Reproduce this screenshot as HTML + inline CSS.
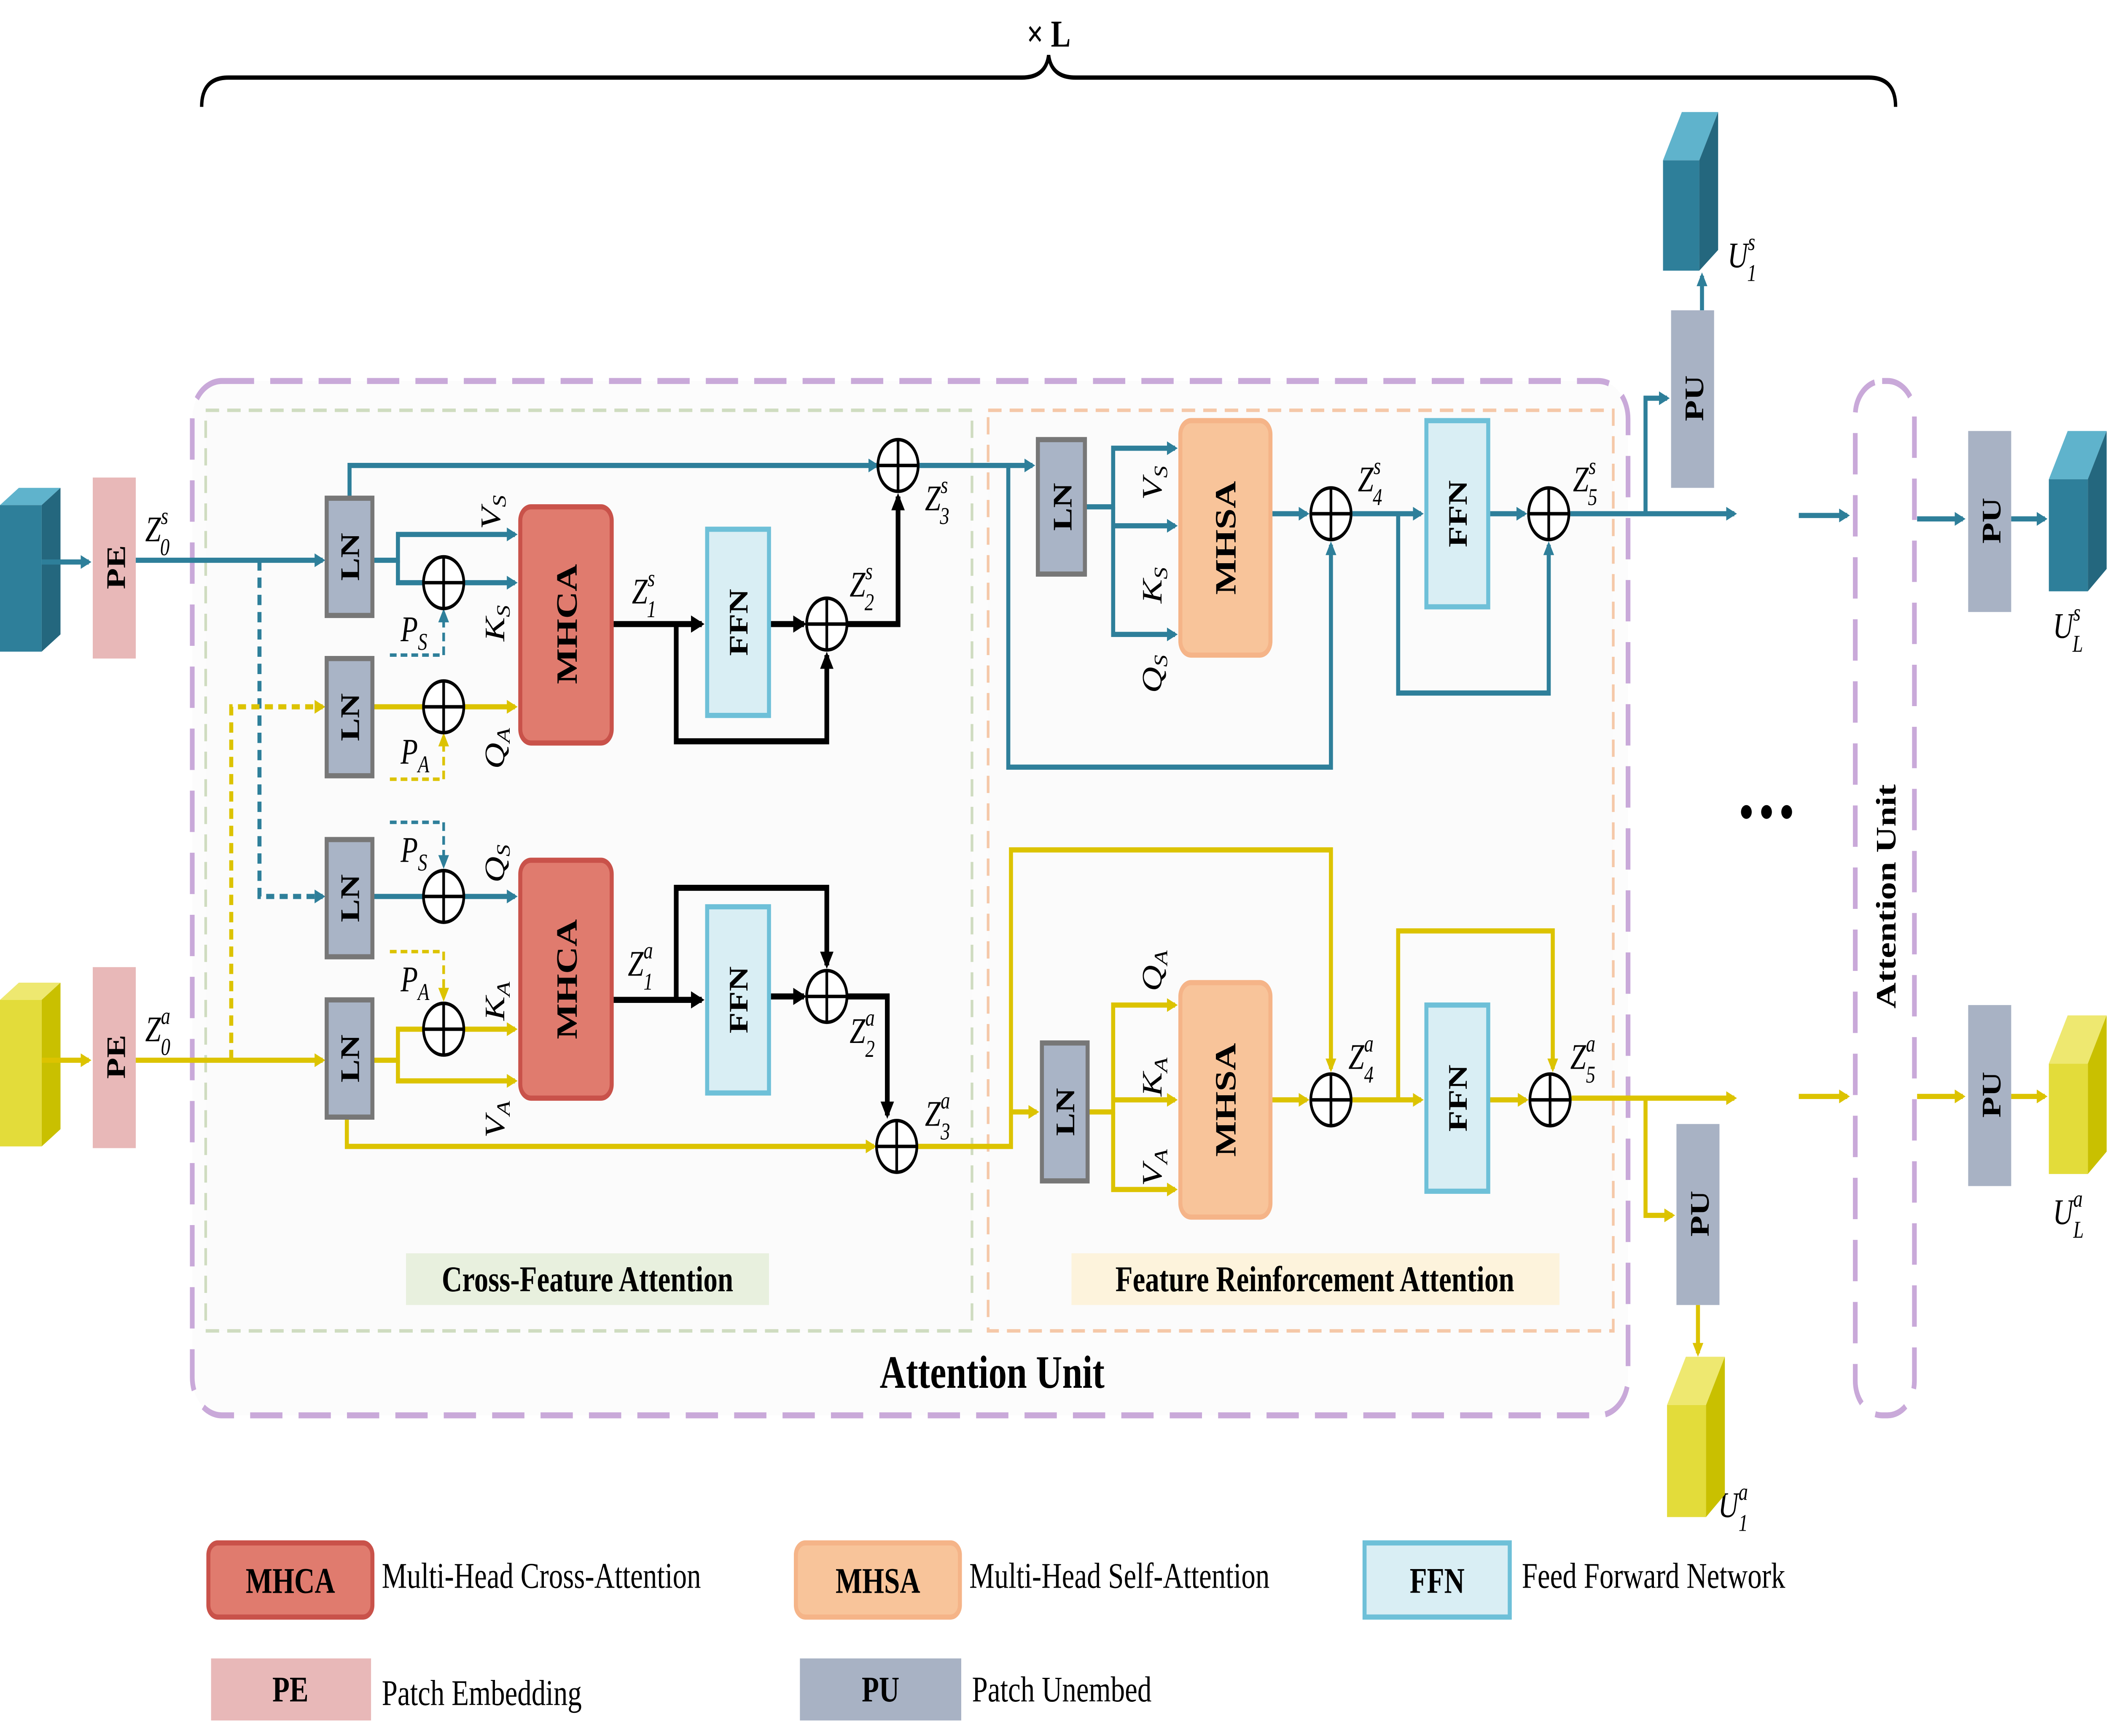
<!DOCTYPE html>
<html><head><meta charset="utf-8"><style>
html,body{margin:0;padding:0;background:#fff;overflow:hidden;width:100vw;height:100vh;}
svg{display:block;position:fixed;left:0;top:0;width:100vw;height:100vh;}
text{font-family:"Liberation Serif",serif;}
.b{font-weight:bold;}
.m{font-style:italic;font-size:21px;}
</style></head><body>
<svg viewBox="0 0 1568 1007" preserveAspectRatio="none" xmlns="http://www.w3.org/2000/svg">
<defs>
<marker id="at" markerWidth="8" markerHeight="8" refX="6" refY="4" orient="auto" markerUnits="userSpaceOnUse"><path d="M0,0 L8,4 L0,8 z" fill="#2e7f9a"/></marker>
<marker id="ay" markerWidth="8" markerHeight="8" refX="6" refY="4" orient="auto" markerUnits="userSpaceOnUse"><path d="M0,0 L8,4 L0,8 z" fill="#dcc300"/></marker>
<marker id="ak" markerWidth="10" markerHeight="10" refX="8" refY="5" orient="auto" markerUnits="userSpaceOnUse"><path d="M0,0 L10,5 L0,10 z" fill="#000"/></marker>
</defs>
<rect width="1568" height="1007" fill="#fff"/>
<text x="780" y="27" font-size="22" class="b" text-anchor="middle">× L</text>
<path d="M150,62 Q150,45 170,45 L760,45 Q778,45 780,32 Q782,45 800,45 L1390,45 Q1410,45 1410,62" fill="none" stroke="#000" stroke-width="2.5"/>
<rect x="143" y="221" width="1068" height="600" rx="22" fill="#fcfcfc" stroke="#c9a9d9" stroke-width="3.5" stroke-dasharray="24,12"/>
<rect x="153" y="238" width="570" height="534" fill="#fbfbfb" stroke="#cfdcc0" stroke-width="2" stroke-dasharray="10,6"/>
<rect x="735" y="238" width="465" height="534" fill="#fbfbfb" stroke="#f5c8a8" stroke-width="2" stroke-dasharray="10,6"/>
<rect x="1380" y="221" width="44" height="600" rx="20" fill="#fff" stroke="#c9a9d9" stroke-width="3.5" stroke-dasharray="24,12"/>
<text transform="translate(1410,520) rotate(-90)" font-size="21" class="b" text-anchor="middle">Attention Unit</text>
<g><polygon points="0,293 14,283 45,283 31,293" fill="#5fb3cc"/><polygon points="31,293 45,283 45,368 31,378" fill="#24677e"/><rect x="0" y="293" width="31" height="85" fill="#2e7f9a"/></g>
<g><polygon points="0,580 14,570 45,570 31,580" fill="#eee870"/><polygon points="31,580 45,570 45,655 31,665" fill="#c9c000"/><rect x="0" y="580" width="31" height="85" fill="#e3dc3a"/></g>
<line x1="31" y1="326" x2="66" y2="326" stroke="#2e7f9a" stroke-width="3" marker-end="url(#at)"/>
<line x1="31" y1="615" x2="66" y2="615" stroke="#dcc300" stroke-width="3" marker-end="url(#ay)"/>
<rect x="69" y="277" width="32" height="105" fill="#e8b8b8"/>
<text transform="translate(93,329) rotate(-90)" font-size="20" class="b" text-anchor="middle">PE</text>
<rect x="69" y="561" width="32" height="105" fill="#e8b8b8"/>
<text transform="translate(93,613) rotate(-90)" font-size="20" class="b" text-anchor="middle">PE</text>
<text x="108" y="314" class="m">Z<tspan font-size="14" dy="-10">s</tspan><tspan font-size="14" dx="-6" dy="18">0</tspan></text>
<text x="108" y="604" class="m">Z<tspan font-size="14" dy="-10">a</tspan><tspan font-size="14" dx="-7" dy="18">0</tspan></text>
<g fill="none" stroke-width="3">
<line x1="101" y1="325" x2="240" y2="325" stroke="#2e7f9a" marker-end="url(#at)"/>
<path d="M193,325 V520 H240" stroke="#2e7f9a" stroke-dasharray="6,4" marker-end="url(#at)"/>
<line x1="101" y1="615" x2="240" y2="615" stroke="#dcc300" marker-end="url(#ay)"/>
<path d="M172,615 V410 H240" stroke="#dcc300" stroke-dasharray="6,4" marker-end="url(#ay)"/>
<path d="M277,325 H296 V310 H383" stroke="#2e7f9a" marker-end="url(#at)"/>
<path d="M296,325 V338 H383" stroke="#2e7f9a" marker-end="url(#at)"/>
<path d="M290,380 H330 V355" stroke="#2e7f9a" stroke-width="2" stroke-dasharray="5,3" marker-end="url(#at)"/>
<path d="M260,289 V270 H652" stroke="#2e7f9a" marker-end="url(#at)"/>
<line x1="277" y1="410" x2="383" y2="410" stroke="#dcc300" marker-end="url(#ay)"/>
<path d="M290,452 H330 V427" stroke="#dcc300" stroke-width="2" stroke-dasharray="5,3" marker-end="url(#ay)"/>
<line x1="277" y1="520" x2="383" y2="520" stroke="#2e7f9a" marker-end="url(#at)"/>
<path d="M290,477 H330 V502" stroke="#2e7f9a" stroke-width="2" stroke-dasharray="5,3" marker-end="url(#at)"/>
<path d="M277,615 H296 V597 H383" stroke="#dcc300" marker-end="url(#ay)"/>
<path d="M296,615 V627 H383" stroke="#dcc300" marker-end="url(#ay)"/>
<path d="M290,552 H330 V579" stroke="#dcc300" stroke-width="2" stroke-dasharray="5,3" marker-end="url(#ay)"/>
<path d="M258,648 V665 H650" stroke="#dcc300" marker-end="url(#ay)"/>
<line x1="455" y1="362" x2="522" y2="362" stroke="#000" stroke-width="3.5" marker-end="url(#ak)"/>
<path d="M503,362 V430 H615 V380" stroke="#000" stroke-width="3.5" marker-end="url(#ak)"/>
<line x1="572" y1="362" x2="598" y2="362" stroke="#000" stroke-width="3.5" marker-end="url(#ak)"/>
<path d="M630,362 H668 V288" stroke="#000" stroke-width="3.5" marker-end="url(#ak)"/>
<line x1="455" y1="580" x2="522" y2="580" stroke="#000" stroke-width="3.5" marker-end="url(#ak)"/>
<path d="M503,580 V515 H615 V560" stroke="#000" stroke-width="3.5" marker-end="url(#ak)"/>
<line x1="572" y1="578" x2="598" y2="578" stroke="#000" stroke-width="3.5" marker-end="url(#ak)"/>
<path d="M630,578 H660 V647" stroke="#000" stroke-width="3.5" marker-end="url(#ak)"/>
<line x1="684" y1="270" x2="768" y2="270" stroke="#2e7f9a" marker-end="url(#at)"/>
<path d="M750,270 V445 H990 V316" stroke="#2e7f9a" marker-end="url(#at)"/>
<path d="M807,294 H828 V260 H874" stroke="#2e7f9a" marker-end="url(#at)"/>
<line x1="828" y1="305" x2="874" y2="305" stroke="#2e7f9a" marker-end="url(#at)"/>
<path d="M828,294 V368 H874" stroke="#2e7f9a" marker-end="url(#at)"/>
<line x1="945" y1="298" x2="972" y2="298" stroke="#2e7f9a" marker-end="url(#at)"/>
<line x1="1006" y1="298" x2="1057" y2="298" stroke="#2e7f9a" marker-end="url(#at)"/>
<path d="M1040,298 V402 H1152 V316" stroke="#2e7f9a" marker-end="url(#at)"/>
<line x1="1107" y1="298" x2="1134" y2="298" stroke="#2e7f9a" marker-end="url(#at)"/>
<line x1="1168" y1="298" x2="1290" y2="298" stroke="#2e7f9a" marker-end="url(#at)"/>
<path d="M1224,298 V231 H1240" stroke="#2e7f9a" marker-end="url(#at)"/>
<line x1="1266" y1="180" x2="1266" y2="160" stroke="#2e7f9a" marker-end="url(#at)"/>
<line x1="1338" y1="299" x2="1374" y2="299" stroke="#2e7f9a" marker-end="url(#at)"/>
<line x1="1426" y1="301" x2="1460" y2="301" stroke="#2e7f9a" marker-end="url(#at)"/>
<line x1="1496" y1="301" x2="1521" y2="301" stroke="#2e7f9a" marker-end="url(#at)"/>
<path d="M683,665 H752 V493 H990 V620" stroke="#dcc300" marker-end="url(#ay)"/>
<line x1="752" y1="645" x2="771" y2="645" stroke="#dcc300" marker-end="url(#ay)"/>
<path d="M809,645 H828 V583 H874" stroke="#dcc300" marker-end="url(#ay)"/>
<line x1="828" y1="638" x2="874" y2="638" stroke="#dcc300" marker-end="url(#ay)"/>
<path d="M828,645 V690 H874" stroke="#dcc300" marker-end="url(#ay)"/>
<line x1="945" y1="638" x2="972" y2="638" stroke="#dcc300" marker-end="url(#ay)"/>
<line x1="1006" y1="638" x2="1057" y2="638" stroke="#dcc300" marker-end="url(#ay)"/>
<path d="M1040,638 V540 H1155 V620" stroke="#dcc300" marker-end="url(#ay)"/>
<line x1="1107" y1="638" x2="1135" y2="638" stroke="#dcc300" marker-end="url(#ay)"/>
<line x1="1169" y1="637" x2="1290" y2="637" stroke="#dcc300" marker-end="url(#ay)"/>
<path d="M1224,637 V705 H1244" stroke="#dcc300" marker-end="url(#ay)"/>
<line x1="1263" y1="757" x2="1263" y2="785" stroke="#dcc300" marker-end="url(#ay)"/>
<line x1="1338" y1="636" x2="1374" y2="636" stroke="#dcc300" marker-end="url(#ay)"/>
<line x1="1426" y1="636" x2="1460" y2="636" stroke="#dcc300" marker-end="url(#ay)"/>
<line x1="1496" y1="636" x2="1521" y2="636" stroke="#dcc300" marker-end="url(#ay)"/>
</g>
<g fill="#a9b4c6" stroke="#777" stroke-width="3">
<rect x="243" y="289" width="34" height="68"/><rect x="243" y="382" width="34" height="68"/>
<rect x="243" y="487" width="34" height="68"/><rect x="243" y="580" width="34" height="68"/>
<rect x="772" y="255" width="35" height="78"/><rect x="775" y="605" width="34" height="80"/>
</g>
<g font-size="20" class="b" text-anchor="middle">
<text transform="translate(267,323) rotate(-90)">LN</text><text transform="translate(267,416) rotate(-90)">LN</text>
<text transform="translate(267,521) rotate(-90)">LN</text><text transform="translate(267,614) rotate(-90)">LN</text>
<text transform="translate(797,294) rotate(-90)">LN</text><text transform="translate(799,645) rotate(-90)">LN</text>
</g>
<rect x="387" y="294" width="68" height="137" rx="8" fill="#e07b6e" stroke="#c9524a" stroke-width="3"/>
<rect x="387" y="499" width="68" height="138" rx="8" fill="#e07b6e" stroke="#c9524a" stroke-width="3"/>
<text transform="translate(429,362) rotate(-90)" font-size="22" class="b" text-anchor="middle">MHCA</text>
<text transform="translate(429,568) rotate(-90)" font-size="22" class="b" text-anchor="middle">MHCA</text>
<rect x="878" y="244" width="67" height="136" rx="8" fill="#f8c49a" stroke="#f5b488" stroke-width="3"/>
<rect x="878" y="570" width="67" height="136" rx="8" fill="#f8c49a" stroke="#f5b488" stroke-width="3"/>
<text transform="translate(919,312) rotate(-90)" font-size="22" class="b" text-anchor="middle">MHSA</text>
<text transform="translate(919,638) rotate(-90)" font-size="22" class="b" text-anchor="middle">MHSA</text>
<g fill="#d9eef4" stroke="#6ec0d8" stroke-width="3">
<rect x="526" y="307" width="46" height="108"/><rect x="526" y="526" width="46" height="108"/>
<rect x="1061" y="244" width="46" height="108"/><rect x="1061" y="583" width="46" height="108"/>
</g>
<g font-size="20" class="b" text-anchor="middle">
<text transform="translate(556,361) rotate(-90)">FFN</text><text transform="translate(556,580) rotate(-90)">FFN</text>
<text transform="translate(1091,298) rotate(-90)">FFN</text><text transform="translate(1091,637) rotate(-90)">FFN</text>
</g>
<g fill="#fff" stroke="#000" stroke-width="2">
<circle cx="330" cy="338" r="15"/><circle cx="330" cy="410" r="15"/><circle cx="330" cy="520" r="15"/><circle cx="330" cy="597" r="15"/>
<circle cx="615" cy="362" r="15"/><circle cx="615" cy="578" r="15"/><circle cx="668" cy="270" r="15"/><circle cx="667" cy="665" r="15"/>
<circle cx="990" cy="298" r="15"/><circle cx="1152" cy="298" r="15"/><circle cx="990" cy="638" r="15"/><circle cx="1153" cy="638" r="15"/>
</g>
<g stroke="#000" stroke-width="2">
<path d="M315,338h30M330,323v30M315,410h30M330,395v30M315,520h30M330,505v30M315,597h30M330,582v30"/>
<path d="M600,362h30M615,347v30M600,578h30M615,563v30M653,270h30M668,255v30M652,665h30M667,650v30"/>
<path d="M975,298h30M990,283v30M1137,298h30M1152,283v30M975,638h30M990,623v30M1138,638h30M1153,623v30"/>
</g>
<g class="m">
<text transform="translate(372,307) rotate(-90)">V<tspan font-size="14" dy="4">S</tspan></text>
<text transform="translate(375,372) rotate(-90)">K<tspan font-size="14" dy="4">S</tspan></text>
<text x="298" y="372">P<tspan font-size="14" dy="5">S</tspan></text>
<text transform="translate(375,446) rotate(-90)">Q<tspan font-size="14" dy="4">A</tspan></text>
<text x="298" y="443">P<tspan font-size="14" dy="5">A</tspan></text>
<text x="298" y="500">P<tspan font-size="14" dy="5">S</tspan></text>
<text transform="translate(375,512) rotate(-90)">Q<tspan font-size="14" dy="4">S</tspan></text>
<text x="298" y="575">P<tspan font-size="14" dy="5">A</tspan></text>
<text transform="translate(375,592) rotate(-90)">K<tspan font-size="14" dy="4">A</tspan></text>
<text transform="translate(375,660) rotate(-90)">V<tspan font-size="14" dy="4">A</tspan></text>
<text x="470" y="350">Z<tspan font-size="14" dy="-10">s</tspan><tspan font-size="14" dx="-6" dy="18">1</tspan></text>
<text x="632" y="346">Z<tspan font-size="14" dy="-10">s</tspan><tspan font-size="14" dx="-6" dy="18">2</tspan></text>
<text x="688" y="296">Z<tspan font-size="14" dy="-10">s</tspan><tspan font-size="14" dx="-6" dy="18">3</tspan></text>
<text x="467" y="566">Z<tspan font-size="14" dy="-10">a</tspan><tspan font-size="14" dx="-7" dy="18">1</tspan></text>
<text x="632" y="605">Z<tspan font-size="14" dy="-10">a</tspan><tspan font-size="14" dx="-7" dy="18">2</tspan></text>
<text x="688" y="653">Z<tspan font-size="14" dy="-10">a</tspan><tspan font-size="14" dx="-7" dy="18">3</tspan></text>
<text transform="translate(864,290) rotate(-90)">V<tspan font-size="14" dy="4">S</tspan></text>
<text transform="translate(864,350) rotate(-90)">K<tspan font-size="14" dy="4">S</tspan></text>
<text transform="translate(864,402) rotate(-90)">Q<tspan font-size="14" dy="4">S</tspan></text>
<text transform="translate(864,575) rotate(-90)">Q<tspan font-size="14" dy="4">A</tspan></text>
<text transform="translate(864,636) rotate(-90)">K<tspan font-size="14" dy="4">A</tspan></text>
<text transform="translate(864,688) rotate(-90)">V<tspan font-size="14" dy="4">A</tspan></text>
<text x="1010" y="285">Z<tspan font-size="14" dy="-10">s</tspan><tspan font-size="14" dx="-6" dy="18">4</tspan></text>
<text x="1170" y="285">Z<tspan font-size="14" dy="-10">s</tspan><tspan font-size="14" dx="-6" dy="18">5</tspan></text>
<text x="1003" y="620">Z<tspan font-size="14" dy="-10">a</tspan><tspan font-size="14" dx="-7" dy="18">4</tspan></text>
<text x="1168" y="620">Z<tspan font-size="14" dy="-10">a</tspan><tspan font-size="14" dx="-7" dy="18">5</tspan></text>
<text x="1285" y="155">U<tspan font-size="14" dy="-10">s</tspan><tspan font-size="14" dx="-6" dy="18">1</tspan></text>
<text x="1527" y="370">U<tspan font-size="14" dy="-10">s</tspan><tspan font-size="14" dx="-6" dy="18">L</tspan></text>
<text x="1278" y="880">U<tspan font-size="14" dy="-10">a</tspan><tspan font-size="14" dx="-7" dy="18">1</tspan></text>
<text x="1527" y="710">U<tspan font-size="14" dy="-10">a</tspan><tspan font-size="14" dx="-7" dy="18">L</tspan></text>
</g>
<g fill="#a8b2c4">
<rect x="1243" y="180" width="32" height="103"/><rect x="1247" y="652" width="32" height="105"/>
<rect x="1464" y="250" width="32" height="105"/><rect x="1464" y="583" width="32" height="105"/>
</g>
<g font-size="20" class="b" text-anchor="middle">
<text transform="translate(1267,231) rotate(-90)">PU</text><text transform="translate(1271,704) rotate(-90)">PU</text>
<text transform="translate(1488,302) rotate(-90)">PU</text><text transform="translate(1488,635) rotate(-90)">PU</text>
</g>
<g><polygon points="1237,93 1251,65 1278,65 1264,93" fill="#5fb3cc"/><polygon points="1264,93 1278,65 1278,145 1264,157" fill="#24677e"/><rect x="1237" y="93" width="27" height="64" fill="#2e7f9a"/></g>
<g><polygon points="1524,278 1538,250 1567,250 1553,278" fill="#5fb3cc"/><polygon points="1553,278 1567,250 1567,330 1553,343" fill="#24677e"/><rect x="1524" y="278" width="29" height="65" fill="#2e7f9a"/></g>
<g><polygon points="1240,815 1254,787 1283,787 1269,815" fill="#eee870"/><polygon points="1269,815 1283,787 1283,867 1269,880" fill="#c9c000"/><rect x="1240" y="815" width="29" height="65" fill="#e3dc3a"/></g>
<g><polygon points="1524,617 1538,589 1567,589 1553,617" fill="#eee870"/><polygon points="1553,617 1567,589 1567,668 1553,681" fill="#c9c000"/><rect x="1524" y="617" width="29" height="64" fill="#e3dc3a"/></g>
<circle cx="1299" cy="471" r="4"/><circle cx="1314" cy="471" r="4"/><circle cx="1329" cy="471" r="4"/>
<rect x="302" y="727" width="270" height="30" fill="#e8f0de"/>
<text x="437" y="749" font-size="21" class="b" text-anchor="middle">Cross-Feature Attention</text>
<rect x="797" y="727" width="363" height="30" fill="#fdf3dc"/>
<text x="978" y="749" font-size="21" class="b" text-anchor="middle">Feature Reinforcement Attention</text>
<text x="738" y="805" font-size="27" class="b" text-anchor="middle">Attention Unit</text>
<rect x="155" y="895" width="122" height="43" rx="7" fill="#e07b6e" stroke="#c9524a" stroke-width="3"/>
<text x="216" y="924" font-size="21" class="b" text-anchor="middle">MHCA</text>
<text x="284" y="921" font-size="21">Multi-Head Cross-Attention</text>
<rect x="592" y="895" width="122" height="43" rx="7" fill="#f8c49a" stroke="#f5b488" stroke-width="3"/>
<text x="653" y="924" font-size="21" class="b" text-anchor="middle">MHSA</text>
<text x="721" y="921" font-size="21">Multi-Head Self-Attention</text>
<rect x="1015" y="895" width="108" height="43" fill="#d9eef4" stroke="#6ec0d8" stroke-width="3"/>
<text x="1069" y="924" font-size="21" class="b" text-anchor="middle">FFN</text>
<text x="1132" y="921" font-size="21">Feed Forward Network</text>
<rect x="157" y="962" width="119" height="36" fill="#e8b8b8"/>
<text x="216" y="987" font-size="21" class="b" text-anchor="middle">PE</text>
<text x="284" y="989" font-size="21">Patch Embedding</text>
<rect x="595" y="962" width="120" height="36" fill="#a8b2c4"/>
<text x="655" y="987" font-size="21" class="b" text-anchor="middle">PU</text>
<text x="723" y="987" font-size="21">Patch Unembed</text>
</svg>
</body></html>
